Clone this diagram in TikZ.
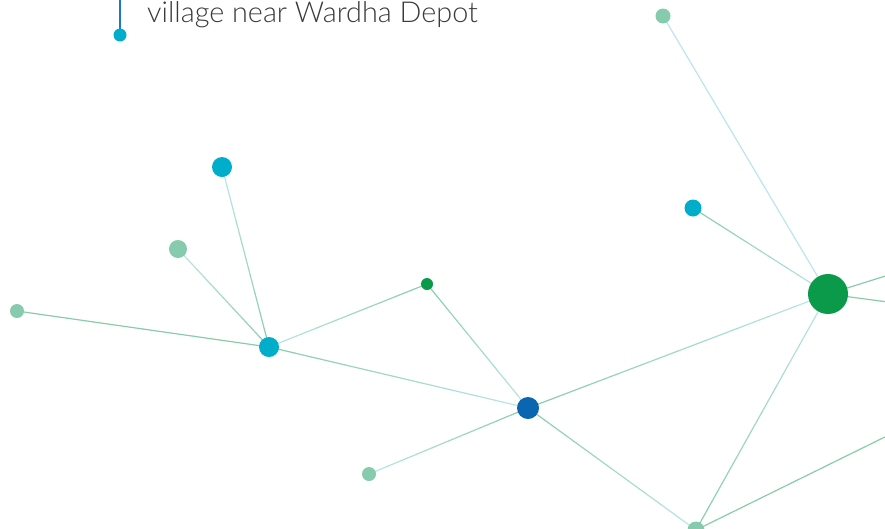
\documentclass[tikz,border=0pt]{standalone}
\usepackage{fontspec}
\setmainfont{Lato Light}
\usetikzlibrary{calc,backgrounds}
\definecolor{cyanD}{HTML}{00AECB}
\definecolor{lgreen}{HTML}{86CBAD}
\definecolor{dgreen}{HTML}{0A9A4A}
\definecolor{dblue}{HTML}{0A66B0}
\definecolor{lc}{HTML}{BDE5E9}
\definecolor{lg}{HTML}{88CDA8}
\definecolor{txt}{HTML}{3A3A3A}
\definecolor{vline}{HTML}{1E78C8}
\newcommand\gedge[4]{%
  \foreach \i in {0,...,9}{%
    \pgfmathsetmacro\ta{\i/10}%
    \pgfmathsetmacro\tb{(\i+1)/10}%
    \pgfmathtruncatemacro\pc{95-\i*10}%
    \draw[edgeline, draw=#3!\pc!#4] ($(#1)!\ta!(#2)$) -- ($(#1)!\tb!(#2)$);
  }}
\begin{document}
\begin{tikzpicture}[x=1pt,y=-1pt,
  dot/.style={circle, inner sep=0pt, draw=none},
  edgeline/.style={line width=1.2pt, line cap=round}]
\useasboundingbox (0,0) rectangle (885,528);
\clip (0,0) rectangle (885,528);
% nodes
\node[dot, fill=cyanD, minimum size=13pt] (lab) at (120,35) {};
\coordinate (top) at (120,0);
\node[dot, fill=cyanD, minimum size=20pt] (a) at (222,167) {};
\node[dot, fill=lgreen, minimum size=18pt] (b) at (178,249) {};
\node[dot, fill=lgreen, minimum size=14pt] (c) at (17,311) {};
\node[dot, fill=cyanD, minimum size=20pt] (d) at (269,347) {};
\node[dot, fill=dgreen, minimum size=12pt] (e) at (427,284) {};
\node[dot, fill=dblue, minimum size=22pt] (f) at (528,408) {};
\node[dot, fill=lgreen, minimum size=14pt] (g) at (369,474) {};
\node[dot, fill=lgreen, minimum size=15pt] (h) at (663,16) {};
\node[dot, fill=cyanD, minimum size=17pt] (i) at (693,208) {};
\node[dot, fill=dgreen, minimum size=40pt] (j) at (828,294) {};
\node[dot, fill=lgreen, minimum size=17pt] (k) at (696,530) {};
\coordinate (o1) at (895,273);
\coordinate (o2) at (895,303);
\coordinate (o3) at (895,432);
\node[anchor=base west, text=txt, font=\fontsize{28.8}{34}\selectfont, inner sep=0pt] (t) at (147,22) {village near Wardha Depot};
\begin{pgfonlayer}{background}
\draw[vline, line width=1.5pt] (top) -- (lab.center);
\gedge{a.center}{d.center}{lc}{lg}
\gedge{b.center}{d.center}{lc}{lg}
\gedge{c.center}{d.center}{lg}{lg}
\gedge{d.center}{e.center}{lc}{lg}
\gedge{e.center}{f.center}{lg}{lc}
\gedge{d.center}{f.center}{lg}{lc}
\gedge{g.center}{f.center}{lc}{lg}
\gedge{f.center}{j.center}{lg}{lc}
\gedge{f.center}{k.center}{lg}{lc}
\gedge{k.center}{j.center}{lg}{lc}
\gedge{k.center}{o3}{lg}{lg}
\gedge{h.center}{j.center}{lc}{lc}
\gedge{i.center}{j.center}{lg}{lc}
\gedge{j.center}{o1}{lg}{lg}
\gedge{j.center}{o2}{lg}{lg}
\end{pgfonlayer}
\end{tikzpicture}
\end{document}
